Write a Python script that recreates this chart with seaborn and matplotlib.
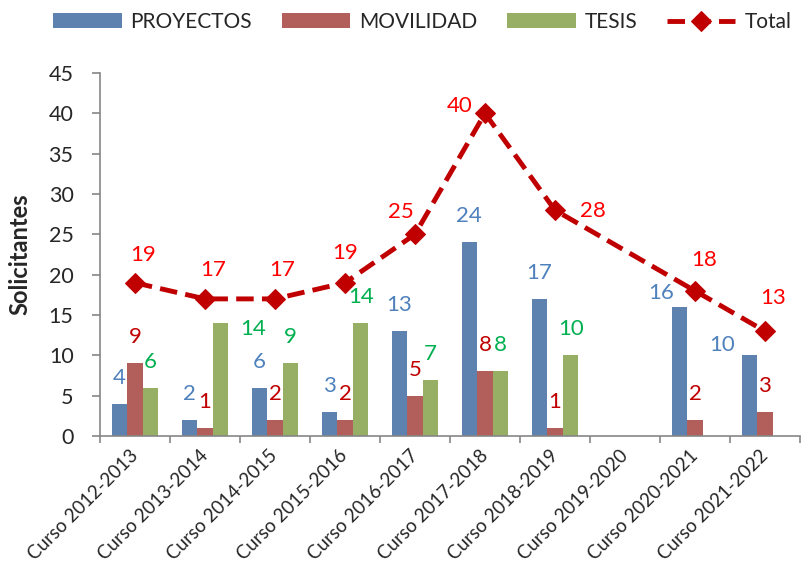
import numpy as np
import pandas as pd
import matplotlib
matplotlib.use('Agg')
import matplotlib.pyplot as plt
import seaborn as sns

# 数据
cursos = ['Curso 2012-2013', 'Curso 2013-2014', 'Curso 2014-2015', 'Curso 2015-2016',
          'Curso 2016-2017', 'Curso 2017-2018', 'Curso 2018-2019', 'Curso 2019-2020',
          'Curso 2020-2021', 'Curso 2021-2022']
proyectos = [4, 2, 6, 3, 13, 24, 17, np.nan, 16, 10]
movilidad = [9, 1, 2, 2, 5, 8, 1, np.nan, 2, 3]
tesis = [6, 14, 9, 14, 7, 8, 10, np.nan, np.nan, np.nan]
total = [19, 17, 17, 19, 25, 40, 28, np.nan, 18, 13]

series = ['PROYECTOS', 'MOVILIDAD', 'TESIS']
bar_colors = ['#4F81BD', '#C0504D', '#9BBB59']
label_colors = {'PROYECTOS': '#4F81BD', 'MOVILIDAD': '#C00000', 'TESIS': '#00B050'}

df = pd.DataFrame({'curso': cursos * 3,
                   'serie': np.repeat(series, len(cursos)),
                   'valor': proyectos + movilidad + tesis})

sns.set_style('white')
plt.rcParams['font.family'] = ['Lato', 'DejaVu Sans']

fig = plt.figure(figsize=(8.03, 5.67), dpi=100)
ax = fig.add_axes([0.1245, 0.231, 0.8717, 0.6402])

sns.barplot(data=df, x='curso', y='valor', hue='serie', order=cursos, hue_order=series,
            palette=bar_colors, width=0.67, errorbar=None, linewidth=0, ax=ax)

# línea del total (sin el curso vacío, la línea une 28 y 18)
pos = np.arange(len(cursos))
tot = pd.DataFrame({'x': pos, 'total': total}).dropna()
sns.lineplot(data=tot, x='x', y='total', color='#C00000', linewidth=3.5, marker='D',
             markersize=10, markeredgecolor='#C00000', label='Total', ax=ax)
ax.lines[-1].set_dashes((3.6, 1.7))

# etiquetas de las barras
offsets_bar = {('TESIS', 'Curso 2013-2014'): (32, -6),
               ('PROYECTOS', 'Curso 2020-2021'): (-18, 14),
               ('PROYECTOS', 'Curso 2021-2022'): (-27, 10)}
for serie, cont in zip(series, ax.containers):
    for bar in cont:
        h = bar.get_height()
        if np.isnan(h):
            continue
        xc = bar.get_x() + bar.get_width() / 2
        curso = cursos[int(round(xc))]
        dx, dy = offsets_bar.get((serie, curso), (0, 26))
        ax.annotate(f'{int(h)}', (xc, h), xytext=(dx, dy), textcoords='offset pixels',
                    ha='center', va='center', fontsize=16, color=label_colors[serie])

# etiquetas del total
offsets_tot = [(8, 28), (8, 29), (7, 29), (0, 30), (-14, 22), (-25, 7), (38, -1),
               None, (9, 31), (8, 33)]
for i, v in enumerate(total):
    if np.isnan(v):
        continue
    ax.annotate(f'{int(v)}', (i, v), xytext=offsets_tot[i], textcoords='offset pixels',
                ha='center', va='center', fontsize=16, color='#FF0000')

ax.set_ylim(0, 45)
ax.set_yticks(range(0, 46, 5))
ax.set_xlim(-0.5, len(cursos) - 0.5)
ax.set_xlabel('')
ax.set_ylabel('Solicitantes', fontsize=17, fontweight='bold', labelpad=12)

for s in ['top', 'right']:
    ax.spines[s].set_visible(False)
for s in ['left', 'bottom']:
    ax.spines[s].set_color('#868686')
    ax.spines[s].set_linewidth(1.2)

ax.tick_params(axis='y', length=6, width=1.2, color='#868686', labelsize=15.5,
               pad=13, direction='out', left=True)
ax.set_xticks(pos)
ax.set_xticklabels(cursos, rotation=45, ha='right', va='center', rotation_mode='anchor',
                   fontsize=13.5)
ax.tick_params(axis='x', length=0, pad=12)
ax.set_xticks(np.arange(-0.5, len(cursos)), minor=True)
ax.tick_params(axis='x', which='minor', length=5, width=1.2, color='#868686',
               direction='out', bottom=True)

handles, labels = ax.get_legend_handles_labels()
if ax.get_legend() is not None:
    ax.get_legend().remove()
fig.legend(handles, labels, loc='center', bbox_to_anchor=(0.526, 0.961), ncol=4,
           frameon=False, fontsize=15, handlelength=3.27, handleheight=0.72,
           handletextpad=0.43, columnspacing=1.44)

plt.savefig('out.png', dpi=100)
